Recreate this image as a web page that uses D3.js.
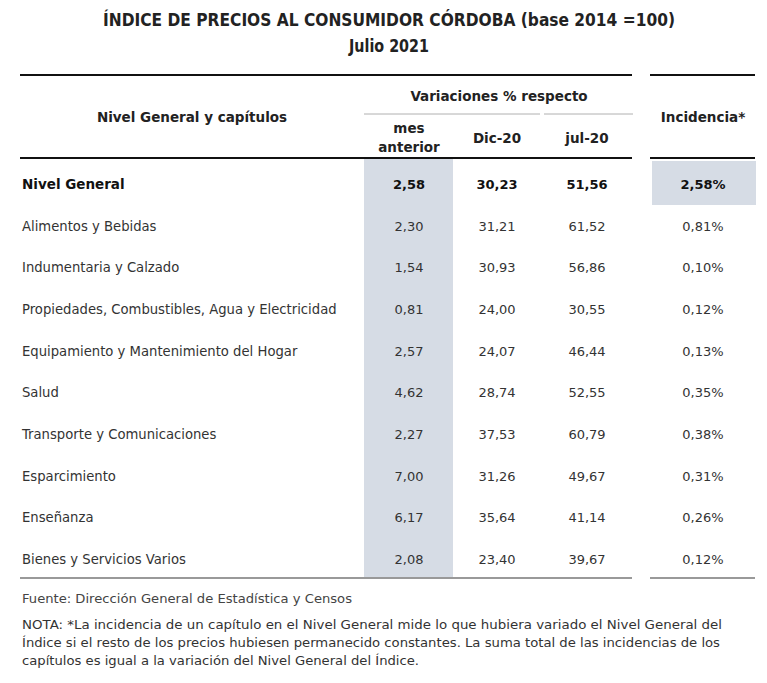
<!DOCTYPE html>
<html><head><meta charset="utf-8">
<script src="https://cdn.jsdelivr.net/npm/d3@7"></script>
<style>body{margin:0;background:#fff}svg{display:block}</style>
</head><body>
<script>
const titleLines = ["ÍNDICE DE PRECIOS AL CONSUMIDOR CÓRDOBA (base 2014 =100)", "Julio 2021"];
const categories = ["Nivel General","Alimentos y Bebidas","Indumentaria y Calzado","Propiedades, Combustibles, Agua y Electricidad","Equipamiento y Mantenimiento del Hogar","Salud","Transporte y Comunicaciones","Esparcimiento","Enseñanza","Bienes y Servicios Varios"];
const mesAnterior = ["2,58","2,30","1,54","0,81","2,57","4,62","2,27","7,00","6,17","2,08"];
const dic20 = ["30,23","31,21","30,93","24,00","24,07","28,74","37,53","31,26","35,64","23,40"];
const jul20 = ["51,56","61,52","56,86","30,55","46,44","52,55","60,79","49,67","41,14","39,67"];
const incidencia = ["2,58%","0,81%","0,10%","0,12%","0,13%","0,35%","0,38%","0,31%","0,26%","0,12%"];
const subHeaders = [["mes","anterior"],["Dic-20"],["jul-20"]];
const groupHeader = "Variaciones % respecto";
const rowHeader = "Nivel General y capítulos";
const incHeader = "Incidencia*";
const source = "Fuente: Dirección General de Estadística y Censos";
const notes = ["NOTA: *La incidencia de un capítulo en el Nivel General mide lo que hubiera variado el Nivel General del",
"Índice si el resto de los precios hubiesen permanecido constantes. La suma total de las incidencias de los",
"capítulos es igual a la variación del Nivel General del Índice."];

const W=767,H=683;
const svg=d3.select("body").append("svg").attr("width",W).attr("height",H);
const body="'DejaVu Sans', Verdana, sans-serif";
const x=d3.scaleOrdinal().domain(["mes","dic","jul","inc"]).range([409,497,587,703]);
const y=d3.scalePoint().domain(categories).range([184,559]);
const txt="#333";

// shading
svg.append("rect").attr("x",364).attr("y",159).attr("width",89).attr("height",419).attr("fill","#d6dce5");
svg.append("rect").attr("x",652).attr("y",161).attr("width",104).attr("height",44).attr("fill","#d6dce5");

// title
svg.selectAll("text.title").data(titleLines).join("text").attr("class","title")
 .attr("x",389).attr("y",(d,i)=>i?52:26).attr("text-anchor","middle")
 .attr("font-family","'Liberation Sans Narrow','DejaVu Sans Condensed',sans-serif").attr("font-weight","bold")
 .attr("font-size",17).attr("fill","#222")
 .attr("textLength",(d,i)=>i?80:572).attr("lengthAdjust","spacingAndGlyphs").text(d=>d);

// rules
const rule=(y0,x1,x2,c,w)=>svg.append("line").attr("x1",x1).attr("x2",x2).attr("y1",y0).attr("y2",y0).attr("stroke",c).attr("stroke-width",w);
[[75,"#111",2],[158,"#111",2],[578,"#999",2]].forEach(([yy,c,w])=>{rule(yy,20,632,c,w);rule(yy,650,755,c,w);});
rule(114,364,540,"#b0b0b0",1);rule(114,544,633,"#b0b0b0",1);

// headers
const hb=g=>g.attr("font-family",body).attr("font-weight","bold").attr("font-size",13.5).attr("fill","#222").attr("text-anchor","middle");
svg.append("text").call(hb).attr("x",499).attr("y",101).text(groupHeader);
svg.append("text").call(hb).attr("x",192).attr("y",122).text(rowHeader);
svg.append("text").call(hb).attr("x",703).attr("y",122).text(incHeader);
["mes","dic","jul"].forEach((k,i)=>{
  const lines=subHeaders[i];
  lines.forEach((l,j)=>svg.append("text").call(hb).attr("x",x(k)).attr("y",lines.length>1?133+j*19:143).text(l));
});

// rows
const rows=categories.map((c,i)=>({c,i,mes:mesAnterior[i],dic:dic20[i],jul:jul20[i],inc:incidencia[i]}));
const g=svg.append("g");
rows.forEach(r=>{
  const bold=r.i===0;
  const yy=y(r.c)+5;
  g.append("text").attr("x",22).attr("y",yy).attr("font-family",body).attr("font-size",bold?13.5:13.2)
   .attr("font-weight",bold?"bold":"normal").attr("fill",bold?"#111":txt).text(r.c);
  ["mes","dic","jul","inc"].forEach(k=>{
    g.append("text").attr("x",x(k)).attr("y",yy).attr("text-anchor","middle").attr("font-family",body)
     .attr("font-size",13).attr("font-weight",bold?"bold":"normal").attr("fill",bold?"#111":txt).text(r[k]);
  });
});

// footnotes
svg.append("text").attr("x",22).attr("y",603).attr("font-family",body).attr("font-size",12).attr("fill","#444")
 .attr("textLength",330).attr("lengthAdjust","spacingAndGlyphs").text(source);
const nl=[700,698,397];
notes.forEach((n,i)=>svg.append("text").attr("x",22).attr("y",629+i*18).attr("font-family",body).attr("font-size",12).attr("fill","#333")
 .attr("textLength",nl[i]).attr("lengthAdjust","spacingAndGlyphs").text(n));
</script>
</body></html>
